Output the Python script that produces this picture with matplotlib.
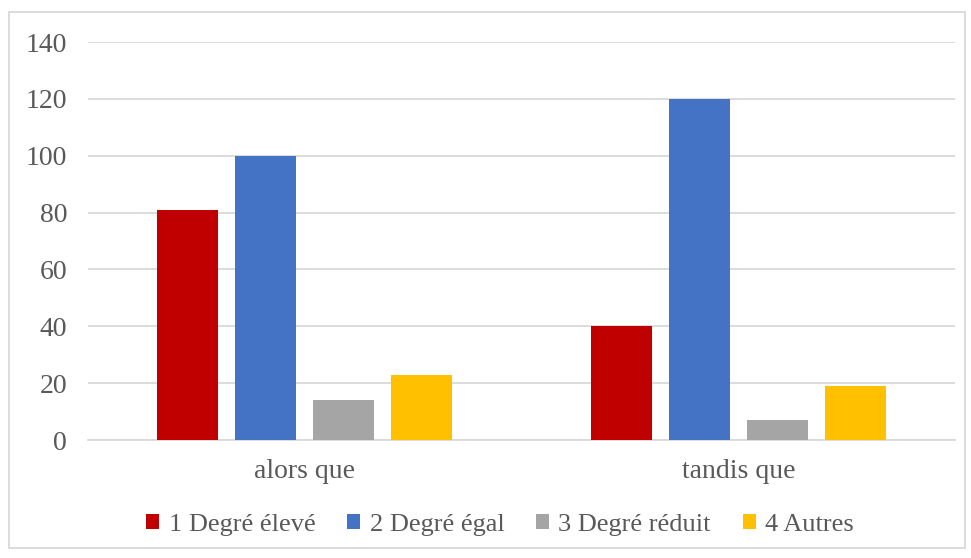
import matplotlib.pyplot as plt
import numpy as np
from matplotlib.patches import Rectangle

# data
categories = ['alors que', 'tandis que']
series = ['1 Degré élevé', '2 Degré égal', '3 Degré réduit', '4 Autres']
values = [
    [81, 40],
    [100, 120],
    [14, 7],
    [23, 19],
]
colors = ['#c00000', '#4472c4', '#a5a5a5', '#ffc000']
yticks = [0, 20, 40, 60, 80, 100, 120, 140]

fams = ['Liberation Serif', 'DejaVu Serif']
plt.rcParams['font.family'] = fams

fig = plt.figure(figsize=(9.71, 5.58), dpi=100)
ax = fig.add_axes([88/971, 1-440/558, (955-88)/971, (440-42)/558])

x = np.arange(len(categories))
w = 0.141
step = 0.18
for i, (name, vals, c) in enumerate(zip(series, values, colors)):
    ax.bar(x + (i-1.5)*step, vals, w, color=c, label=name, zorder=3)

ax.set_xlim(-0.5, 1.5)
ax.set_ylim(0, 140)
ax.set_yticks(yticks)
ax.set_xticks(x)
ax.set_xticklabels(categories)
ax.grid(axis='y', color='#d9d9d9', linewidth=1.3, zorder=0)
for s in ['top', 'right', 'left']:
    ax.spines[s].set_visible(False)
ax.spines['bottom'].set_color('#d9d9d9')
ax.spines['bottom'].set_linewidth(1.3)
ax.tick_params(length=0, labelsize=20, colors='#595959')
ax.tick_params(axis='y', pad=15)
ax.tick_params(axis='x', pad=14)

leg = fig.legend(loc='center', bbox_to_anchor=(500/971, 1-525/558), ncol=4, frameon=False,
                 prop={'family': fams, 'size': 19}, labelcolor='#595959',
                 handlelength=0.5, handleheight=0.5,
                 handletextpad=0.35, columnspacing=1.2)

# outer frame
fig.patches.append(Rectangle((9/971, 1-548/558), (965-9)/971, (548-12)/558,
                             transform=fig.transFigure, fill=False,
                             edgecolor='#d9d9d9', linewidth=1.3))

fig.savefig('out.png', dpi=100)
